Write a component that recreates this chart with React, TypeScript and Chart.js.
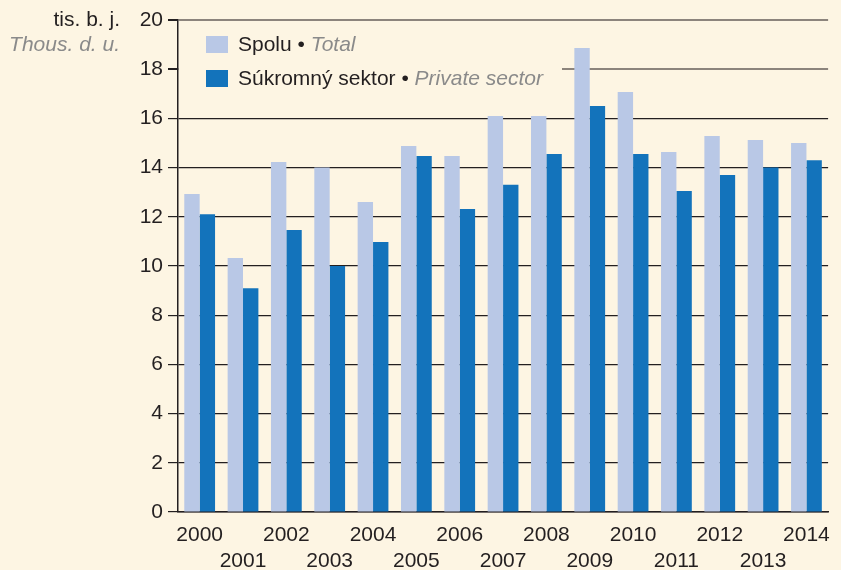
import React, { useEffect, useRef } from "react";
import { Chart, registerables } from "chart.js";

Chart.register(...registerables);

const years = ["2000","2001","2002","2003","2004","2005","2006","2007","2008","2009","2010","2011","2012","2013","2014"];
const totalValues = [12.93, 10.33, 14.23, 14.0, 12.6, 14.88, 14.47, 16.5, 16.75, 18.86, 17.07, 14.63, 15.28, 15.12, 15.0];
const privateValues = [12.1, 9.1, 11.46, 10.0, 10.98, 14.47, 12.32, 13.3, 14.55, 16.5, 14.55, 13.05, 13.7, 14.0, 14.3];
const seriesLabels = [["Spolu", "Total"], ["Súkromný sektor", "Private sector"]];
const axisTitle = ["tis. b. j.", "Thous. d. u."];

const BG = "#fdf5e3";
const LIGHT = "#b9c8e6";
const DARK = "#1373bb";
const INK = "#231f20";
const GRAY = "#8a8a8a";
const FONT = "'Liberation Sans', Arial, sans-serif";
const FS = 21;

const overlayPlugin = {
  id: "overlay",
  afterDraw(chart: any) {
    const ctx = chart.ctx;
    const area = chart.chartArea;
    ctx.save();
    // legend background (hides the gridline behind the legend)
    ctx.fillStyle = BG;
    ctx.fillRect(area.left + 1, area.top + 4, 562 - area.left - 1, 92);
    const colors = [LIGHT, DARK];
    const rows = [44.5, 78.5];
    ctx.textBaseline = "middle";
    for (let i = 0; i < 2; i++) {
      const y = rows[i];
      ctx.fillStyle = colors[i];
      ctx.fillRect(206, y - 8.5, 22, 17);
      ctx.font = `${FS}px ${FONT}`;
      ctx.fillStyle = INK;
      ctx.textAlign = "left";
      const main = seriesLabels[i][0] + " \u2022 ";
      ctx.fillText(main, 238, y + 1);
      const w = ctx.measureText(main).width;
      ctx.font = `italic ${FS}px ${FONT}`;
      ctx.fillStyle = GRAY;
      ctx.fillText(seriesLabels[i][1], 238 + w, y + 1);
    }
    // axis title
    ctx.textAlign = "right";
    ctx.font = `${FS}px ${FONT}`;
    ctx.fillStyle = INK;
    ctx.fillText(axisTitle[0], 120, 20);
    ctx.font = `italic ${FS}px ${FONT}`;
    ctx.fillStyle = GRAY;
    ctx.fillText(axisTitle[1], 120, 45);
    ctx.restore();
  },
};

export default function App() {
  const ref = useRef<HTMLCanvasElement>(null);
  useEffect(() => {
    if (!ref.current) return;
    const chart = new Chart(ref.current, {
      type: "bar",
      data: {
        labels: years,
        datasets: [
          { label: seriesLabels[0].join(" • "), data: totalValues, backgroundColor: LIGHT, categoryPercentage: 0.71, barPercentage: 1 },
          { label: seriesLabels[1].join(" • "), data: privateValues, backgroundColor: DARK, categoryPercentage: 0.71, barPercentage: 1 },
        ],
      },
      options: {
        responsive: false,
        animation: false,
        layout: { padding: { top: 20, right: 6, left: 0, bottom: 0 } },
        plugins: { legend: { display: false }, tooltip: { enabled: false } },
        scales: {
          x: {
            grid: { display: false, drawTicks: false },
            border: { display: true, color: INK, width: 1.5 },
            ticks: {
              color: INK,
              font: { family: FONT, size: FS, lineHeight: 1.2 },
              padding: 11,
              maxRotation: 0,
              autoSkip: false,
              callback: (v: any, i: number) => (i % 2 === 0 ? years[i] : ["", years[i]]),
            },
            afterFit: (s: any) => { s.height = 58; },
          },
          y: {
            min: 0,
            max: 20,
            ticks: {
              stepSize: 2,
              color: INK,
              font: { family: FONT, size: FS },
              padding: 5,
            },
            grid: {
              color: (c: any) => (c.tick && c.tick.value >= 18 ? "#8c847c" : INK),
              lineWidth: (c: any) => (c.tick && c.tick.value >= 18 ? 2 : 1.2),
              tickColor: INK,
              tickLength: 10,
              drawTicks: true,
            },
            border: { display: true, color: INK, width: 1.5 },
            afterFit: (s: any) => { s.width = 178; },
          },
        },
      },
      plugins: [overlayPlugin],
    });
    return () => chart.destroy();
  }, []);
  return (
    <div style={{ position: "fixed", left: 0, top: 0, width: 841, height: 570, background: BG }}>
      <canvas ref={ref} width={841} height={570} style={{ display: "block" }} />
    </div>
  );
}
